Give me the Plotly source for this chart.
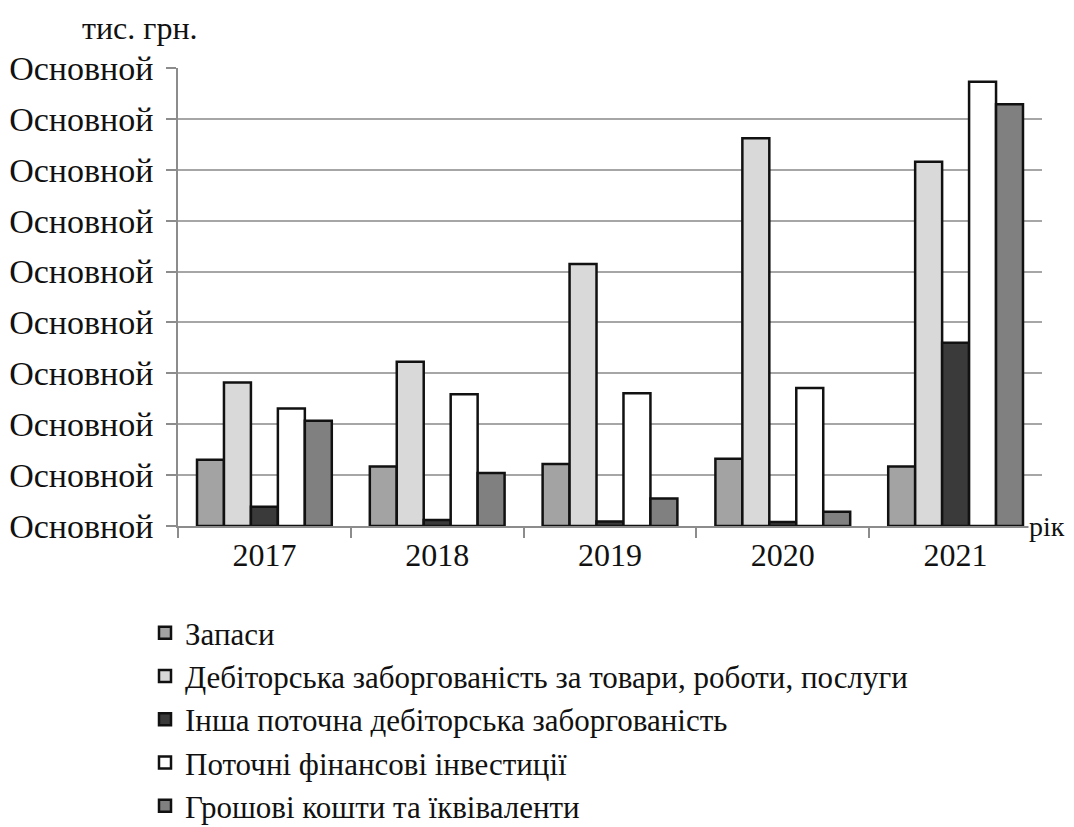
import plotly.graph_objects as go

years = ["2017", "2018", "2019", "2020", "2021"]
series_names = [
    "Запаси",
    "Дебіторська заборгованість за товари, роботи, послуги",
    "Інша поточна дебіторська заборгованість",
    "Поточні фінансові інвестиції",
    "Грошові кошти та їквіваленти",
]
zapasy = [1.30, 1.17, 1.22, 1.32, 1.17]
debitorska = [2.82, 3.23, 5.15, 7.62, 7.16]
insha = [0.38, 0.12, 0.09, 0.08, 3.60]
potochni = [2.31, 2.59, 2.61, 2.71, 8.73]
groshovi = [2.07, 1.04, 0.54, 0.28, 8.29]
colors = ["#a3a3a3", "#d9d9d9", "#3a3a3a", "#ffffff", "#808080"]

y_tickvals = list(range(10))
y_ticktext = ["Основной"] * 10

FONT = "Liberation Serif"
OFF = 8  # page body margin
W, H = 1074 - OFF, 827 - OFF
# plot area in page pixels
PX0, PX1, PY0, PY1 = 178, 1042, 68, 526
L = PX0 - OFF
T = PY0 - OFF
R = W - (PX1 - OFF)
B = H - (PY1 - OFF)
PW = PX1 - PX0
PH = PY1 - PY0


def px(xp):
    return (xp - PX0) / PW


def py(yp):
    return (PY1 - yp) / PH


fig = go.Figure()
for i, (name, vals) in enumerate(zip(series_names, [zapasy, debitorska, insha, potochni, groshovi])):
    fig.add_trace(go.Bar(
        x=years, y=vals, name=name, legendgroup=f"g{i}",
        marker=dict(color=colors[i], line=dict(color="#111111", width=2.5)),
    ))

fig.update_layout(
    width=W, height=H,
    margin=dict(l=L, r=R, t=T, b=B, autoexpand=False),
    paper_bgcolor="white", plot_bgcolor="white",
    barmode="group", bargap=0.22, bargroupgap=0,
    font=dict(family=FONT, size=32, color="#111111"),
    showlegend=True,
    legend=dict(
        orientation="v",
        x=px(145), y=py(606), xanchor="left", yanchor="top",
        font=dict(family=FONT, size=31, color="#111111"),
        tracegroupgap=12, traceorder="normal", itemclick=False,
        bgcolor="rgba(0,0,0,0)",
    ),
)
fig.update_xaxes(
    type="category", showline=True, linecolor="#8c8c8c", linewidth=1.5,
    ticks="outside", tickson="boundaries", ticklen=10, tickcolor="#8c8c8c",
    tickwidth=1.5, showgrid=False, tickfont=dict(family=FONT, size=32), tickangle=0,
    automargin=False,
)
fig.update_yaxes(
    range=[0, 9], tickvals=y_tickvals, ticktext=y_ticktext,
    showline=True, linecolor="#8c8c8c", linewidth=1.5,
    ticks="outside", ticklen=10, tickcolor="#8c8c8c", tickwidth=1.5,
    showgrid=True, gridcolor="#a6a6a6", gridwidth=1.5,
    zeroline=False, tickfont=dict(family=FONT, size=34), ticklabelstandoff=6,
    automargin=False,
)
fig.add_annotation(
    text="тис. грн.", xref="paper", yref="paper",
    x=px(80), y=py(28), xanchor="left", yanchor="middle",
    showarrow=False, font=dict(family=FONT, size=32, color="#111111"),
)
fig.add_annotation(
    text="рік", xref="paper", yref="paper",
    x=px(1028), y=0, xanchor="left", yanchor="middle",
    showarrow=False, bgcolor="white", borderpad=0,
    font=dict(family=FONT, size=28, color="#111111"),
)

fig.write_html("out.html")
